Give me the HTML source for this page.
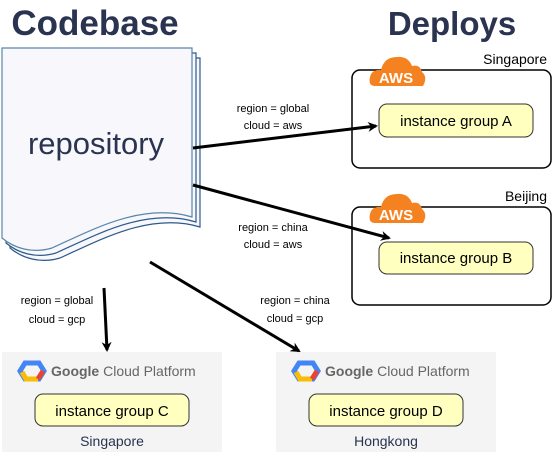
<!DOCTYPE html>
<html><head><style>body{margin:0;background:#fff}</style></head><body>
<svg width="553" height="456" viewBox="0 0 553 456" xmlns="http://www.w3.org/2000/svg" font-family="Liberation Sans, sans-serif">
<defs><marker id="ar" markerWidth="10" markerHeight="10" refX="8" refY="5" orient="auto" markerUnits="userSpaceOnUse"><path d="M0,0 L10,5 L0,10 L3,5z" fill="#000"/></marker></defs>
<text x="95" y="35" font-size="35" font-weight="bold" fill="#2a3350" text-anchor="middle">Codebase</text>
<text x="452" y="35" font-size="33" font-weight="bold" fill="#2a3350" text-anchor="middle">Deploys</text>
<g fill="#f8f8fc" stroke="#2c5a8c" stroke-width="1.2">
<path d="M10,58 H200 V227 C150,212 100,240 60,258 C40,264 22,258 10,248 Z"/>
<path d="M6,53 H196 V222 C146,207 96,235 56,253 C36,259 18,253 6,243 Z"/>
<path d="M2,48 H192 V217 C142,202 92,230 52,248 C32,254 14,248 2,238 Z" stroke="#5a86a8"/>
</g>
<text x="96" y="154" font-size="31" fill="#2a3350" text-anchor="middle">repository</text>
<rect x="352" y="70" width="199" height="98" rx="8" fill="#fff" stroke="#000" stroke-width="1.5"/>
<rect x="352" y="207" width="199" height="98" rx="8" fill="#fff" stroke="#000" stroke-width="1.5"/>
<g fill="#f58220">
<path d="M375,86 Q368,86 370,77 Q372,69 381,70 Q384,57 397,57 Q408,56 412,66 Q420,64 422,72 Q428,77 423,86 Z"/>
<path d="M375,223 Q368,223 370,214 Q372,206 381,207 Q384,194 397,194 Q408,193 412,203 Q420,201 422,209 Q428,214 423,223 Z"/>
</g>
<text x="396" y="83" font-size="15" font-weight="bold" fill="#fff" text-anchor="middle">AWS</text>
<text x="396" y="220" font-size="15" font-weight="bold" fill="#fff" text-anchor="middle">AWS</text>
<text x="547" y="64" font-size="14" text-anchor="end">Singapore</text>
<text x="547" y="201" font-size="14" text-anchor="end">Beijing</text>
<g fill="#ffffc0" stroke="#333" stroke-width="1">
<rect x="379" y="104" width="154" height="33" rx="8"/>
<rect x="379" y="242" width="154" height="32" rx="8"/>
</g>
<text x="456" y="126" font-size="15" text-anchor="middle">instance group A</text>
<text x="456" y="263" font-size="15" text-anchor="middle">instance group B</text>
<rect x="2" y="352" width="220" height="100" fill="#f4f4f4"/>
<rect x="276" y="352" width="220" height="100" fill="#f4f4f4"/>
<g>
<polygon points="25,363 39,363 44,371 39,379 25,379 20,371" fill="none" stroke="#4285f4" stroke-width="5"/>
<path d="M22,372 L26,379 L38,379" fill="none" stroke="#fbbc05" stroke-width="5"/>
<path d="M38,379 L43,371" fill="none" stroke="#ea4335" stroke-width="5"/>
<polygon points="299,363 313,363 318,371 313,379 299,379 294,371" fill="none" stroke="#4285f4" stroke-width="5"/>
<path d="M296,372 L300,379 L312,379" fill="none" stroke="#fbbc05" stroke-width="5"/>
<path d="M312,379 L317,371" fill="none" stroke="#ea4335" stroke-width="5"/>
</g>
<text x="51" y="376" font-size="14" fill="#666"><tspan font-weight="bold">Google</tspan> Cloud Platform</text>
<text x="325" y="376" font-size="14" fill="#666"><tspan font-weight="bold">Google</tspan> Cloud Platform</text>
<g fill="#ffffc0" stroke="#333" stroke-width="1">
<rect x="35" y="394" width="154" height="32" rx="8"/>
<rect x="309" y="394" width="154" height="32" rx="8"/>
</g>
<text x="112" y="416" font-size="15" text-anchor="middle">instance group C</text>
<text x="386" y="416" font-size="15" text-anchor="middle">instance group D</text>
<text x="112" y="446" font-size="14" fill="#2a3350" text-anchor="middle">Singapore</text>
<text x="386" y="446" font-size="14" fill="#2a3350" text-anchor="middle">Hongkong</text>
<g stroke="#000" stroke-width="3" marker-end="url(#ar)">
<line x1="193" y1="148" x2="376" y2="126"/>
<line x1="193" y1="185" x2="389" y2="238"/>
<line x1="104" y1="288" x2="107" y2="350"/>
<line x1="150" y1="262" x2="299" y2="351"/>
</g>
<g font-size="11" text-anchor="middle">
<text x="273" y="112">region = global</text><text x="273" y="129">cloud = aws</text>
<text x="273" y="231">region = china</text><text x="273" y="248">cloud = aws</text>
<text x="57" y="304">region = global</text><text x="57" y="323">cloud = gcp</text>
<text x="295" y="304">region = china</text><text x="295" y="322">cloud = gcp</text>
</g>
</svg>
</body></html>
